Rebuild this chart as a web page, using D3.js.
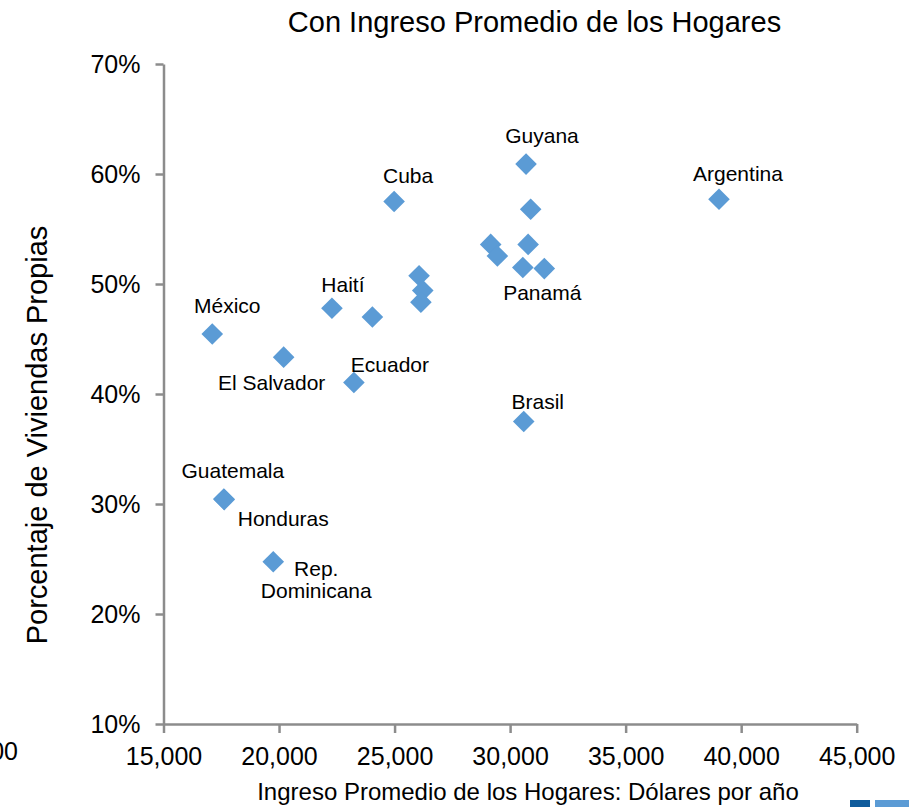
<!DOCTYPE html>
<html>
<head>
<meta charset="utf-8">
<script src="https://cdn.jsdelivr.net/npm/d3@7"></script>
<style>
  html, body { margin: 0; padding: 0; background: #fff; }
  svg { display: block; }
  text { font-family: Helvetica, Arial, "Liberation Sans", sans-serif; fill: #000; }
</style>
</head>
<body>
<svg id="chart" width="909" height="807"></svg>
<script>
// ---- Data ----
const countries = ["México", "El Salvador", "Haití", "", "Ecuador", "Cuba", "", "", "",
  "Guyana", "", "", "", "", "", "Panamá", "Brasil", "Argentina", "Guatemala", "Honduras", "Rep. Dominicana"];
const income = [17110, 20200, 22290, 24040, 23240, 24980, 26060, 26220, 26140,
  30690, 30890, 30780, 29160, 29450, 30550, 31480, 30590, 39040, 17610, 17630, 19750];
const ownership = [45.45, 43.35, 47.8, 47.0, 41.05, 57.5, 50.75, 49.4, 48.35,
  60.9, 56.8, 53.6, 53.6, 52.55, 51.5, 51.4, 37.5, 57.7, 30.45, 30.4, 24.75];
const xTicks = [15000, 20000, 25000, 30000, 35000, 40000, 45000];
const yTicks = [10, 20, 30, 40, 50, 60, 70];
const title = "Con Ingreso Promedio de los Hogares";
const xTitle = "Ingreso Promedio de los Hogares: Dólares por año";
const yTitle = "Porcentaje de Viviendas Propias";

// label placement (pixel offsets from the marker; lines of text)
const labelPlacement = {
  "México": { dx: 15, dy: -21, lines: ["México"] },
  "El Salvador": { dx: -12, dy: 33, lines: ["El Salvador"] },
  "Haití": { dx: 11, dy: -16, lines: ["Haití"] },
  "Ecuador": { dx: 36, dy: -10, lines: ["Ecuador"] },
  "Cuba": { dx: 14, dy: -19, lines: ["Cuba"] },
  "Guyana": { dx: 16, dy: -21, lines: ["Guyana"] },
  "Panamá": { dx: -2, dy: 31, lines: ["Panamá"] },
  "Brasil": { dx: 14, dy: -13, lines: ["Brasil"] },
  "Argentina": { dx: 19, dy: -18, lines: ["Argentina"] },
  "Guatemala": { dx: 9, dy: -21, lines: ["Guatemala"] },
  "Honduras": { dx: 59, dy: 26, lines: ["Honduras"] },
  "Rep. Dominicana": { dx: 43, dy: 14, lines: ["Rep.", "Dominicana"] }
};

const points = countries.map((c, i) => ({ name: c, x: income[i], y: ownership[i] }));

const svg = d3.select("#chart");
const x = d3.scaleLinear().domain([15000, 45000]).range([163.5, 856.7]);
const y = d3.scaleLinear().domain([10, 70]).range([724, 64]);
const axisColor = "#8c8c8c";

// Axes
const fmt = d3.format(",");
const gx = svg.append("g").attr("transform", `translate(0,${y(10)})`)
  .call(d3.axisBottom(x).tickValues(xTicks).tickFormat(fmt).tickSize(9).tickSizeOuter(0).tickPadding(14));
const gy = svg.append("g").attr("transform", `translate(${x(15000)},0)`)
  .call(d3.axisLeft(y).tickValues(yTicks).tickFormat(d => d + "%").tickSize(8).tickSizeOuter(0).tickPadding(15));
[gx, gy].forEach(g => {
  g.select(".domain").attr("stroke", axisColor).attr("stroke-width", 2.5);
  g.selectAll(".tick line").attr("stroke", axisColor).attr("stroke-width", 2.5);
  g.selectAll(".tick text").attr("font-size", 25).attr("fill", "#000")
    .attr("font-family", "Helvetica, Arial, 'Liberation Sans', sans-serif");
});

// Markers (diamonds)
const h = 10.8;
const diamond = `M0,${-h}L${h},0L0,${h}L${-h},0Z`;
svg.append("g").selectAll("path").data(points).join("path")
  .attr("d", diamond)
  .attr("transform", d => `translate(${x(d.x)},${y(d.y)})`)
  .attr("fill", "#5b9bd5");

// Labels
const lbl = svg.append("g");
points.filter(d => labelPlacement[d.name]).forEach(d => {
  const p = labelPlacement[d.name];
  p.lines.forEach((line, k) => {
    lbl.append("text")
      .attr("x", x(d.x) + p.dx)
      .attr("y", y(d.y) + p.dy + k * 22)
      .attr("text-anchor", "middle")
      .attr("font-size", 21)
      .text(line);
  });
});

// Titles
svg.append("text").attr("x", 534.5).attr("y", 32).attr("text-anchor", "middle")
  .attr("font-size", 29).text(title);
svg.append("text").attr("x", 528).attr("y", 800).attr("text-anchor", "middle")
  .attr("font-size", 24).text(xTitle);
svg.append("text").attr("transform", "translate(47,435) rotate(-90)").attr("text-anchor", "middle")
  .attr("font-size", 29).text(yTitle);

// Cropped neighbouring elements
svg.append("text").attr("x", 18).attr("y", 760).attr("text-anchor", "end")
  .attr("font-size", 25).text("00");
svg.append("rect").attr("x", 850).attr("y", 800).attr("width", 20).attr("height", 7).attr("fill", "#0f5c9c");
svg.append("rect").attr("x", 875).attr("y", 800).attr("width", 34).attr("height", 7).attr("fill", "#5b9bd5");
</script>
</body>
</html>
